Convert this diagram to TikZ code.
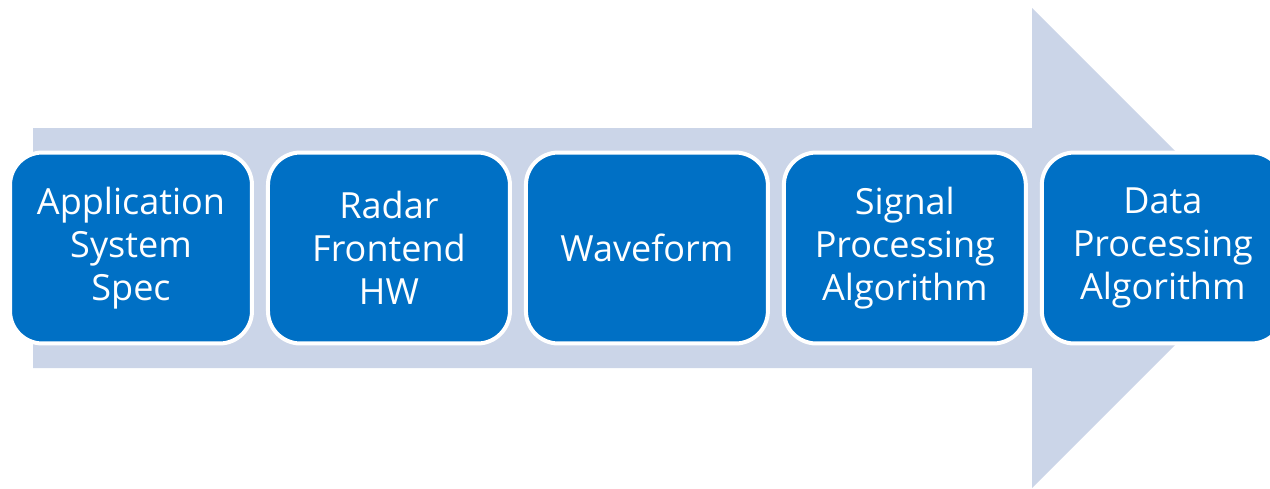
\documentclass[tikz,border=0pt]{standalone}
\usepackage{fontspec}
\setmainfont{Open Sans}
\usepackage{tikz}
\usetikzlibrary{positioning}
\definecolor{stageblue}{RGB}{0,112,197}
\definecolor{flowgrey}{RGB}{203,213,232}

\begin{document}
\begin{tikzpicture}[x=0.02cm, y=-0.02cm,
    stage/.style={draw=white, fill=stageblue, line width=0.08cm, rounded corners=0.65cm,
        minimum width=4.84cm, minimum height=3.82cm, inner sep=0pt,
        text=white, align=center, font=\fontsize{20.5}{24.5}\selectfont}]
    \useasboundingbox (0,0) rectangle (1270,488);
    % big arrow behind the stages
    \fill[flowgrey] (33,128) -- (1032,128) -- (1032,8) -- (1272,248) -- (1032,488) -- (1032,368) -- (33,368) -- cycle;
    \node[stage] (spec) at (131,248) {Application\\System\\Spec};
    \node[stage, right=0.24cm of spec] (frontend) {Radar\\Frontend\\HW};
    \node[stage, right=0.24cm of frontend] (waveform) {Waveform};
    \node[stage, right=0.24cm of waveform] (signal) {Signal\\Processing\\Algorithm};
    \node[stage, right=0.24cm of signal] (data) {Data\\Processing\\Algorithm};
\end{tikzpicture}
\end{document}
